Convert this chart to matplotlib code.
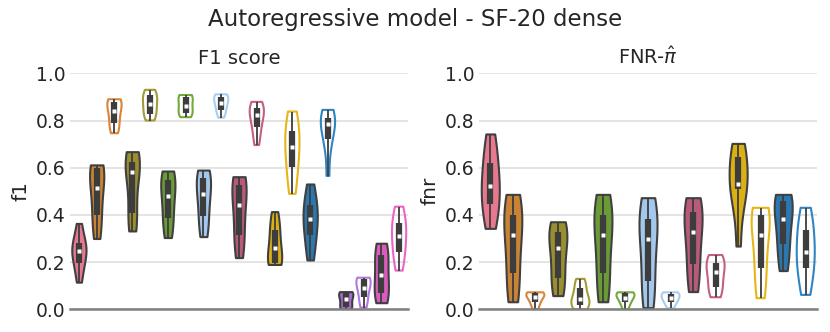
import numpy as np
import matplotlib
matplotlib.use("Agg")
import matplotlib.pyplot as plt

# one colour per model; filled violins and outlined violins alternate
fill_colors = {
    "pink": "#e8788f", "orange": "#c98334", "olive": "#9a8f2f", "green": "#6b9a36",
    "lightblue": "#a3c8ec", "crimson": "#b85a7a", "gold": "#dbb012", "blue": "#2b78b0",
    "purple": "#a56bcf", "magenta": "#db5cbe",
}
line_colors = {
    "orange": "#d8843a", "olive": "#a39a38", "green": "#73a83a", "lightblue": "#a8cdf2",
    "crimson": "#c45f82", "gold": "#e6b618", "blue": "#2f84c2", "purple": "#b277e0",
    "magenta": "#e866c9",
}

# slot order (model colour, filled?)
f1_slots = [("pink", True), ("orange", True), ("orange", False), ("olive", True), ("olive", False),
            ("green", True), ("green", False), ("lightblue", True), ("lightblue", False),
            ("crimson", True), ("crimson", False), ("gold", True), ("gold", False),
            ("blue", True), ("blue", False), ("purple", True), ("purple", False),
            ("magenta", True), ("magenta", False)]
fnr_slots = f1_slots[:15]

# per-run scores (9 runs per violin)
f1_runs = [
    [0.115, 0.17, 0.198, 0.235, 0.247, 0.26, 0.28, 0.31, 0.364],
    [0.30, 0.36, 0.40, 0.47, 0.516, 0.56, 0.597, 0.605, 0.612],
    [0.746, 0.77, 0.788, 0.82, 0.84, 0.865, 0.88, 0.885, 0.89],
    [0.332, 0.38, 0.41, 0.52, 0.58, 0.61, 0.626, 0.655, 0.668],
    [0.80, 0.82, 0.828, 0.855, 0.87, 0.885, 0.908, 0.915, 0.93],
    [0.304, 0.35, 0.386, 0.44, 0.482, 0.52, 0.548, 0.575, 0.586],
    [0.814, 0.825, 0.83, 0.85, 0.862, 0.88, 0.90, 0.905, 0.908],
    [0.308, 0.35, 0.395, 0.45, 0.487, 0.525, 0.555, 0.58, 0.59],
    [0.812, 0.835, 0.845, 0.865, 0.876, 0.89, 0.90, 0.905, 0.911],
    [0.219, 0.28, 0.315, 0.39, 0.44, 0.50, 0.527, 0.55, 0.562],
    [0.696, 0.74, 0.771, 0.80, 0.823, 0.84, 0.852, 0.865, 0.879],
    [0.19, 0.195, 0.198, 0.225, 0.261, 0.30, 0.336, 0.37, 0.414],
    [0.489, 0.55, 0.605, 0.65, 0.689, 0.72, 0.757, 0.80, 0.838],
    [0.209, 0.26, 0.315, 0.35, 0.383, 0.41, 0.44, 0.48, 0.531],
    [0.565, 0.68, 0.72, 0.76, 0.785, 0.80, 0.81, 0.83, 0.845],
    [0.0, 0.005, 0.011, 0.03, 0.042, 0.06, 0.068, 0.072, 0.075],
    [0.007, 0.03, 0.054, 0.08, 0.092, 0.115, 0.127, 0.13, 0.134],
    [0.028, 0.05, 0.068, 0.11, 0.145, 0.19, 0.23, 0.26, 0.28],
    [0.164, 0.21, 0.244, 0.28, 0.312, 0.34, 0.364, 0.40, 0.435],
]
fnr_runs = [
    [0.343, 0.40, 0.445, 0.49, 0.524, 0.57, 0.621, 0.68, 0.743],
    [0.032, 0.09, 0.153, 0.25, 0.315, 0.37, 0.40, 0.46, 0.487],
    [0.0, 0.02, 0.032, 0.045, 0.054, 0.062, 0.068, 0.07, 0.072],
    [0.058, 0.10, 0.134, 0.20, 0.258, 0.30, 0.329, 0.355, 0.371],
    [0.0, 0.01, 0.018, 0.035, 0.044, 0.06, 0.089, 0.11, 0.129],
    [0.032, 0.09, 0.153, 0.25, 0.315, 0.37, 0.40, 0.46, 0.487],
    [0.0, 0.02, 0.032, 0.045, 0.05, 0.062, 0.068, 0.07, 0.072],
    [0.007, 0.06, 0.121, 0.22, 0.30, 0.35, 0.381, 0.44, 0.473],
    [0.004, 0.02, 0.032, 0.042, 0.047, 0.058, 0.064, 0.07, 0.072],
    [0.075, 0.13, 0.192, 0.27, 0.326, 0.38, 0.414, 0.45, 0.473],
    [0.051, 0.075, 0.096, 0.13, 0.157, 0.18, 0.198, 0.215, 0.23],
    [0.268, 0.42, 0.508, 0.52, 0.53, 0.59, 0.647, 0.68, 0.703],
    [0.047, 0.11, 0.177, 0.25, 0.315, 0.37, 0.40, 0.42, 0.43],
    [0.164, 0.22, 0.277, 0.33, 0.383, 0.43, 0.459, 0.475, 0.487],
    [0.061, 0.12, 0.177, 0.21, 0.244, 0.29, 0.336, 0.38, 0.43],
]

panels = [("F1 score", "f1", f1_slots, f1_runs), (r"FNR-$\hat{\pi}$", "fnr", fnr_slots, fnr_runs)]

plt.rcParams["font.family"] = "DejaVu Sans"
fig = plt.figure(figsize=(8.3, 3.32), dpi=100)
axes = [fig.add_axes([70 / 830, 1 - 309.3 / 332, 338 / 830, 236 / 332]),
        fig.add_axes([479 / 830, 1 - 309.3 / 332, 338 / 830, 236 / 332])]

for ax, (title, ylab, slots, runs) in zip(axes, panels):
    pos = np.arange(len(runs))
    parts = ax.violinplot(runs, positions=pos, widths=0.8, showextrema=False,
                          showmeans=False, showmedians=False, points=200)
    for body, (name, filled) in zip(parts["bodies"], slots):
        body.set_alpha(1)
        if filled:
            body.set_facecolor(fill_colors[name])
            body.set_edgecolor("#404040")
        else:
            body.set_facecolor("none")
            body.set_edgecolor(line_colors[name])
        body.set_linewidth(1.5)
        body.set_zorder(2)
    for p, r in zip(pos, runs):
        q1, med, q3 = np.percentile(r, [25, 50, 75])
        ax.plot([p, p], [min(r), max(r)], color="#3d3d3d", lw=1.3, zorder=3,
                solid_capstyle="butt")
        ax.plot([p, p], [q1, q3], color="#3d3d3d", lw=4.5, zorder=3, solid_capstyle="butt")
        ax.plot([p], [med], marker="s", ms=2.2, color="white", mec="none", zorder=4)

    ax.set_xlim(-0.5, len(runs) - 0.5)
    ax.set_ylim(0, 1)
    ax.set_yticks([0, 0.2, 0.4, 0.6, 0.8, 1.0])
    ax.set_yticklabels(["0.0", "0.2", "0.4", "0.6", "0.8", "1.0"])
    ax.set_xticks([])
    ax.tick_params(axis="y", length=0, labelsize=13.5, pad=3, colors="#262626")
    ax.yaxis.grid(True, color="#dcdcdc", lw=1.1)
    ax.set_axisbelow(True)
    for s in ["left", "top", "right"]:
        ax.spines[s].set_visible(False)
    ax.spines["bottom"].set_color("#808080")
    ax.spines["bottom"].set_linewidth(1.8)
    ax.spines["bottom"].set_zorder(5)
    ax.set_title(title, fontsize=14, color="#262626", pad=7)
    ax.set_ylabel(ylab, fontsize=14.5, color="#262626", labelpad=4)

fig.suptitle("Autoregressive model - SF-20 dense", fontsize=16.5, color="#262626", y=0.975)
fig.savefig("out.png", dpi=100)
